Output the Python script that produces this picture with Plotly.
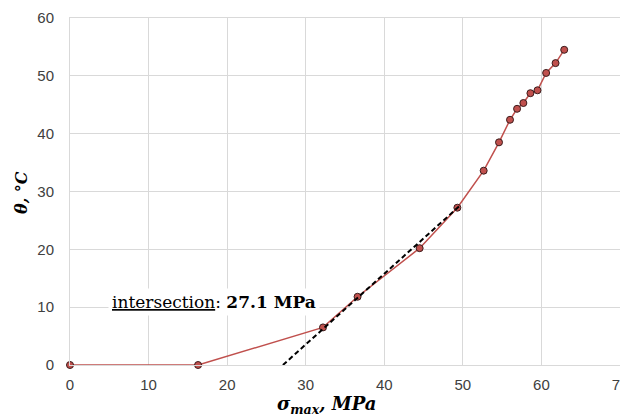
import plotly.graph_objects as go

sigma = [0, 16.3, 32.2, 36.6, 44.5, 49.3, 52.65, 54.6, 56.0, 56.9, 57.7, 58.6, 59.5, 60.6, 61.8, 62.9]
theta = [0, 0, 6.5, 11.8, 20.2, 27.2, 33.6, 38.5, 42.4, 44.3, 45.3, 47.0, 47.5, 50.5, 52.2, 54.5]

fit_x = [27.1, 49.5]
fit_y = [0, 27.4]

x_ticks = [0, 10, 20, 30, 40, 50, 60, 70]
y_ticks = [0, 10, 20, 30, 40, 50, 60]

fig = go.Figure()
fig.add_trace(go.Scatter(
    x=sigma, y=theta, mode="lines+markers",
    line=dict(color="#C0504D", width=1.5),
    marker=dict(size=7, color="#C0504D", line=dict(color="#3b1c1c", width=1)),
    showlegend=False, cliponaxis=False))
fig.add_trace(go.Scatter(
    x=fit_x, y=fit_y, mode="lines",
    line=dict(color="black", width=2, dash="5px,3px"),
    showlegend=False))

fig.add_annotation(
    x=4.8, y=10.9, xref="x", yref="y", xanchor="left", yanchor="middle",
    text="<u>intersection</u>: <b>27.1 MPa</b>", showarrow=False,
    font=dict(family="DejaVu Serif", size=17, color="black"),
    bgcolor="white", borderpad=3)

fig.add_annotation(
    x=0.467, y=-0.116, xref="paper", yref="paper", xanchor="center", yanchor="middle",
    text="<b><i>σ<sub>max</sub>, MPa</i></b>", showarrow=False,
    font=dict(family="DejaVu Serif", size=18, color="black"))
fig.add_annotation(
    x=-0.087, y=0.496, xref="paper", yref="paper", xanchor="center", yanchor="middle",
    text="<b><i>θ, °C</i></b>", showarrow=False, textangle=-90,
    font=dict(family="DejaVu Serif", size=16, color="black"))

axis_common = dict(
    showgrid=True, gridcolor="#d9d9d9", gridwidth=1,
    showline=True, linecolor="#d9d9d9", linewidth=1, mirror=True,
    zeroline=False, ticks="", automargin=False, ticklabeloverflow="allow",
    tickfont=dict(family="Liberation Sans", size=15, color="#404040"))

fig.update_xaxes(range=[0, 70], tickvals=x_ticks, ticklabelstandoff=6, **axis_common)
fig.update_yaxes(range=[0, 60], tickvals=y_ticks, ticklabelstandoff=12, **axis_common)

# the page places the figure 8px in from the top-left corner
fig.update_layout(
    width=620, height=409,
    margin=dict(l=62, r=8, t=10, b=52),
    plot_bgcolor="white", paper_bgcolor="white")

fig.write_html("out.html")
